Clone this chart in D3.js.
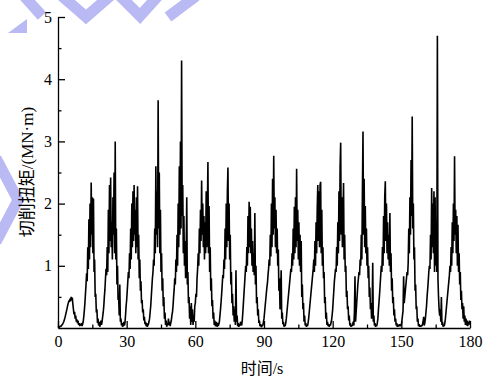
<!DOCTYPE html>
<html>
<head>
<meta charset="utf-8">
<script src="https://cdn.jsdelivr.net/npm/d3@7"></script>
<style>
  body { margin: 0; background: #fff; }
  svg { display: block; }
</style>
</head>
<body>
<div id="chart"></div>
<script>
// sampling step of the torque record (s)
var timeStep = 0.25;

// cutting torque (MN·m), one row per 10 s
var torque = [
  0.01,0.02,0.01,0.02,0.03,0.02,0.04,0.05,0.06,0.08,0.1,0.13,0.16,0.2,0.24,0.28,0.32,0.37,0.4,0.44,0.42,0.47,0.43,0.5,0.45,0.49,0.38,0.3,0.22,0.26,0.15,0.2,0.1,0.14,0.08,0.12,0.05,0.08,0.03,0.06,
  0.04,0.08,0.03,0.06,0.1,0.18,0.28,0.4,0.55,0.7,0.88,0.75,1.3,0.95,1.75,1.1,2.0,1.3,2.34,1.5,2.1,1.2,2.08,0.9,1.1,0.5,0.55,0.25,0.3,0.08,0.15,0.04,0.1,0.02,0.06,0.12,0.05,0.1,0.18,0.25,
  0.35,0.5,0.62,0.8,0.95,0.85,1.3,0.9,1.9,1.2,2.3,1.4,2.42,1.3,1.7,1.1,2.1,1.5,2.5,1.2,3.0,1.1,1.6,0.7,1.0,0.45,0.5,0.2,0.7,0.1,0.15,0.04,0.08,0.02,0.05,0.1,0.04,0.08,0.2,0.35,
  0.45,0.6,0.75,0.9,0.8,1.2,0.95,1.6,1.1,2.0,1.3,2.2,1.4,2.3,1.5,1.9,1.2,2.1,1.3,2.28,1.1,1.5,0.8,1.1,0.6,0.75,0.4,0.45,0.25,0.3,0.12,0.18,0.06,0.1,0.03,0.08,0.02,0.04,0.06,0.1,
  0.15,0.25,0.35,0.5,0.65,0.8,0.9,1.1,1.0,1.6,1.2,2.6,1.5,2.2,1.3,3.66,1.6,2.5,1.2,1.9,0.9,1.2,0.6,0.8,0.35,0.5,0.15,0.25,0.05,0.12,0.02,0.08,0.04,0.15,0.05,0.1,0.03,0.08,0.12,0.2,
  0.25,0.35,0.5,0.62,0.8,0.7,1.1,0.9,1.5,1.0,2.0,1.3,2.6,1.5,3.0,1.6,4.3,1.8,2.3,1.2,1.8,1.0,1.4,0.8,1.2,2.1,0.7,0.9,0.4,0.5,0.15,0.35,0.05,0.4,0.1,0.3,0.05,0.2,0.1,0.35,
  0.4,0.55,0.5,0.8,0.95,1.2,1.0,1.6,1.2,1.9,1.4,2.37,1.5,2.0,1.3,1.8,1.1,1.7,1.2,2.2,1.3,1.9,2.67,1.2,1.96,0.9,1.3,0.6,0.8,0.35,0.45,0.15,0.25,0.05,0.12,0.03,0.05,0.1,0.02,0.08,
  0.03,0.06,0.1,0.2,0.3,0.42,0.55,0.7,0.85,0.8,1.1,0.95,1.6,1.1,2.0,1.3,2.2,2.58,1.4,2.0,1.1,1.5,0.7,0.9,0.4,0.55,0.2,0.35,0.1,0.3,0.05,0.93,0.1,0.2,0.03,0.08,0.02,0.05,0.04,0.1,
  0.08,0.04,0.12,0.25,0.4,0.55,0.7,0.85,1.0,0.9,1.3,1.0,1.8,1.2,2.03,1.3,1.95,1.2,1.6,1.0,1.4,0.9,1.2,0.85,1.85,0.7,1.0,0.4,0.5,0.2,0.3,0.08,0.12,0.03,0.06,0.02,0.02,0.05,0.04,0.1,
  0.15,0.25,0.35,0.45,0.55,0.65,0.72,0.85,0.95,1.1,1.0,1.5,1.15,2.0,1.3,2.4,1.5,2.77,1.6,2.1,1.3,1.9,1.2,1.6,1.0,1.26,0.6,0.8,0.3,0.5,0.93,0.15,0.25,0.06,0.1,0.02,0.05,0.03,0.08,0.15,
  0.25,0.35,0.45,0.55,0.65,0.75,0.85,0.95,0.9,1.2,1.0,1.6,1.1,1.95,1.2,2.1,1.3,2.56,1.4,1.9,1.1,1.7,1.0,1.5,0.9,1.4,0.5,0.7,0.3,0.4,0.1,0.2,0.04,0.08,0.02,0.05,0.03,0.08,0.15,0.25,
  0.35,0.45,0.55,0.65,0.75,0.85,0.95,1.1,0.9,1.4,1.0,1.7,1.2,1.9,2.3,1.4,2.2,1.3,2.3,2.35,1.2,1.9,1.0,1.3,0.8,0.9,0.4,0.5,0.15,0.25,0.05,0.1,0.03,0.06,0.02,0.05,0.04,0.08,0.12,0.2,
  0.3,0.45,0.6,0.75,0.85,0.95,0.9,1.3,1.0,1.7,1.2,2.2,1.4,2.6,2.98,1.5,2.1,1.3,1.7,2.33,1.1,1.5,0.9,1.0,0.5,0.6,0.3,0.35,0.12,0.2,0.04,0.08,0.02,0.05,0.03,0.06,0.1,0.04,0.25,0.83,
  0.1,0.25,0.4,0.55,0.7,0.8,0.9,0.85,1.1,1.0,1.5,1.1,2.2,3.16,1.5,2.4,1.3,1.96,1.2,1.6,1.0,1.3,0.8,1.0,0.5,0.65,0.3,0.4,0.15,0.3,1.05,0.1,0.2,0.04,0.08,0.02,0.05,0.03,0.08,0.15,
  0.3,0.42,0.55,0.7,0.85,1.0,0.9,1.3,1.0,1.8,1.2,2.1,2.36,1.4,2.0,1.2,1.7,1.1,1.5,1.0,1.85,0.9,1.2,0.6,0.8,0.4,0.5,0.2,0.3,0.1,0.15,0.04,0.08,0.02,0.05,0.03,0.04,0.06,0.03,0.05,
  0.05,0.12,0.2,0.28,0.83,0.4,0.5,0.6,0.7,0.8,0.9,0.85,1.05,1.6,1.2,2.1,1.5,2.7,1.8,3.4,1.6,2.0,1.1,1.3,0.6,0.7,0.3,0.35,0.1,0.15,0.03,0.06,0.02,0.04,0.02,0.05,0.03,0.06,0.1,0.18,
  0.04,0.08,0.15,0.25,0.35,0.5,0.62,0.75,0.9,1.0,0.95,1.5,1.1,2.25,1.3,2.0,1.2,2.2,0.9,2.1,1.0,1.6,0.9,4.7,0.8,0.5,0.3,0.2,0.3,0.1,0.5,0.05,0.1,0.02,0.05,0.03,0.08,0.15,0.25,0.35,
  0.45,0.55,0.65,0.75,0.85,1.0,0.9,1.3,1.0,1.7,1.2,2.0,1.4,2.76,1.5,1.9,1.2,1.8,1.0,1.66,0.9,1.2,0.7,0.9,0.45,0.6,0.3,0.4,0.15,0.35,0.1,0.2,0.05,0.15,0.04,0.12,0.03,0.1,0.05,0.12,
  0.06
];

var xTicks = [0, 30, 60, 90, 120, 150, 180];
var xMinorTicks = [15, 45, 75, 105, 135, 165];
var yTicks = [1, 2, 3, 4, 5];
var yMinorTicks = [0.5, 1.5, 2.5, 3.5, 4.5];
var xLabel = "时间/s";
var yLabel = "切削扭矩/(MN·m)";

var width = 495, height = 382;
var margin = {top: 17, right: 25, bottom: 54, left: 58};
var serif = "'Liberation Serif', 'Times New Roman', 'Noto Sans CJK SC', serif";

var svg = d3.select("#chart").append("svg")
  .attr("width", width)
  .attr("height", height);

// faint watermark strokes in the corner of the scan
var wm = svg.append("g")
  .attr("fill", "none")
  .attr("stroke", "#b9b9f4")
  .attr("stroke-width", 11);
wm.append("path").attr("d", "M24,-4 L42,16");
wm.append("path").attr("d", "M62,-4 L86,17 L110,-4");
wm.append("path").attr("d", "M120,-4 L140,16 L158,-4");
wm.append("path").attr("d", "M168,17 L196,-4");
wm.append("path").attr("d", "M-4,158 L18,200 L-4,242");
svg.append("path")
  .attr("d", "M8,33 L27,19 L27,33 Z")
  .attr("fill", "#b9b9f4");

var x = d3.scaleLinear().domain([0, 180]).range([margin.left, width - margin.right]);
var y = d3.scaleLinear().domain([0, 5]).range([height - margin.bottom, margin.top]);

var line = d3.line()
  .x(function(d, i) { return x(i * timeStep); })
  .y(function(d) { return y(d); });

svg.append("path")
  .datum(torque)
  .attr("fill", "none")
  .attr("stroke", "#000")
  .attr("stroke-width", 1.6)
  .attr("stroke-linejoin", "bevel")
  .attr("d", line);

// x axis, ticks pointing inward
svg.append("g")
  .attr("transform", "translate(0," + y(0) + ")")
  .call(d3.axisBottom(x).tickValues(xTicks).tickSize(-7).tickSizeOuter(0).tickPadding(8));
svg.append("g")
  .attr("transform", "translate(0," + y(0) + ")")
  .call(d3.axisBottom(x).tickValues(xMinorTicks).tickSize(-3.5).tickFormat(""))
  .select(".domain").remove();

// y axis
svg.append("g")
  .attr("transform", "translate(" + x(0) + ",0)")
  .call(d3.axisLeft(y).tickValues(yTicks).tickFormat(d3.format("d")).tickSize(-7).tickSizeOuter(0).tickPadding(6));
svg.append("g")
  .attr("transform", "translate(" + x(0) + ",0)")
  .call(d3.axisLeft(y).tickValues(yMinorTicks).tickSize(-3.5).tickFormat(""))
  .select(".domain").remove();

svg.selectAll(".tick line, .domain")
  .attr("stroke", "#000")
  .attr("stroke-width", 1.3);

svg.selectAll(".tick text")
  .attr("fill", "#000")
  .style("font-family", serif)
  .style("font-size", "16px");

// axis titles
svg.append("text")
  .attr("x", 262)
  .attr("y", 374)
  .attr("text-anchor", "middle")
  .style("font-family", serif)
  .style("font-size", "16px")
  .text(xLabel);

svg.append("text")
  .attr("transform", "translate(33," + 172 + ") rotate(-90)")
  .attr("text-anchor", "middle")
  .style("font-family", serif)
  .style("font-size", "17px")
  .text(yLabel);
</script>
</body>
</html>
